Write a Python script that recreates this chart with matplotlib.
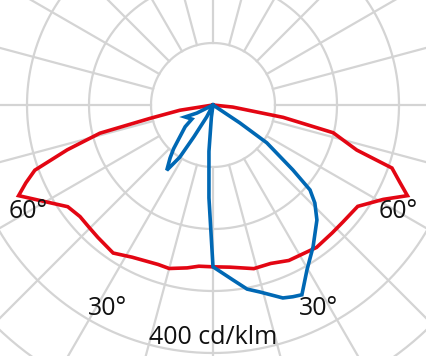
import numpy as np
import matplotlib
matplotlib.use("Agg")
import matplotlib.pyplot as plt

# intensities in cd/klm, angle from nadir in degrees (negative = left half)
red_angles = [-90, -81, -78, -76, -72.9, -69.9, -67.4, -65, -60, -55, -50, -45, -41, -34,
              -28, -19, -15, -9, -5, 0, 6, 14, 20, 26, 36, 43, 48, 55, 61, 65, 67.4,
              70.6, 72.6, 77, 80, 84, 90]
red_values = [0, 54, 104, 188, 246, 306, 327, 346, 312, 286, 280, 281, 283, 288,
              278, 272, 273, 266, 261, 261, 263, 272, 272, 279, 284, 282, 282, 285, 314, 346, 327,
              306, 243, 199, 115, 32, 0]

blue_angles = [60, 56.3, 54.9, 50.9, 48.8, 46.1, 42.1, 35.2, 29.7, 25.1, 22.6, 19.9, 14.1,
               10.5, 6.5, 0, -2.5, -5, -7.5, -10, -25, -28, -31, -32.5, -35.3, -39, -42,
               -52, -56.3, -66.8, -63.4, -75]
blue_values = [0, 52, 106, 166, 208, 228, 250, 280, 306, 338, 335, 331, 311,
               302, 284, 261, 150, 75, 20, 0, 0, 22, 60, 100, 129, 110, 95,
               57, 41, 49, 29, 0]

ring_values = [100, 200, 300, 400, 500]
spoke_angles = list(range(0, 360, 15))

angle_labels = ["60°", "60°", "30°", "30°"]
label_angles = [-60, 60, -27.5, 27.5]
label_radii = [345, 345, 370, 370]
unit_label = "400 cd/klm"

RED = "#e30613"
BLUE = "#0068b4"
GRID = "#d4d4d4"

W, H = 427, 356
px = 0.62            # pixels per cd/klm
cx, cy = 213, 105    # pole position in pixels

fig = plt.figure(figsize=(W / 100, H / 100), dpi=100)
ax = fig.add_axes([0, 0, 1, 1])
ax.set_xlim(-cx / px, (W - cx) / px)
ax.set_ylim(-(H - cy) / px, cy / px)
ax.set_aspect("equal")
ax.axis("off")


def to_xy(angles, values):
    g = np.radians(np.asarray(angles, dtype=float))
    r = np.asarray(values, dtype=float)
    return r * np.sin(g), -r * np.cos(g)


t = np.linspace(0, 2 * np.pi, 400)
for rv in ring_values:
    ax.plot(rv * np.cos(t), rv * np.sin(t), color=GRID, lw=1.6, zorder=1)
for a in spoke_angles:
    x, y = to_xy([a, a], [ring_values[0], 800])
    ax.plot(x, y, color=GRID, lw=1.6, zorder=1)

x, y = to_xy(red_angles, red_values)
ax.plot(x, y, color=RED, lw=2.6, solid_joinstyle="miter", zorder=3)
x, y = to_xy(blue_angles, blue_values)
ax.plot(x, y, color=BLUE, lw=2.6, solid_joinstyle="miter", zorder=4)

for txt, a, r in zip(angle_labels, label_angles, label_radii):
    x, y = to_xy([a], [r])
    ax.text(x[0], y[0], txt, ha="center", va="center", fontsize=18,
            family="Open Sans", color="#111111", zorder=5)
ax.text(0, -(338 - cy) / px, unit_label, ha="center", va="center", fontsize=18,
        family="Open Sans", color="#111111", zorder=5)

fig.savefig("out.png", dpi=100)
